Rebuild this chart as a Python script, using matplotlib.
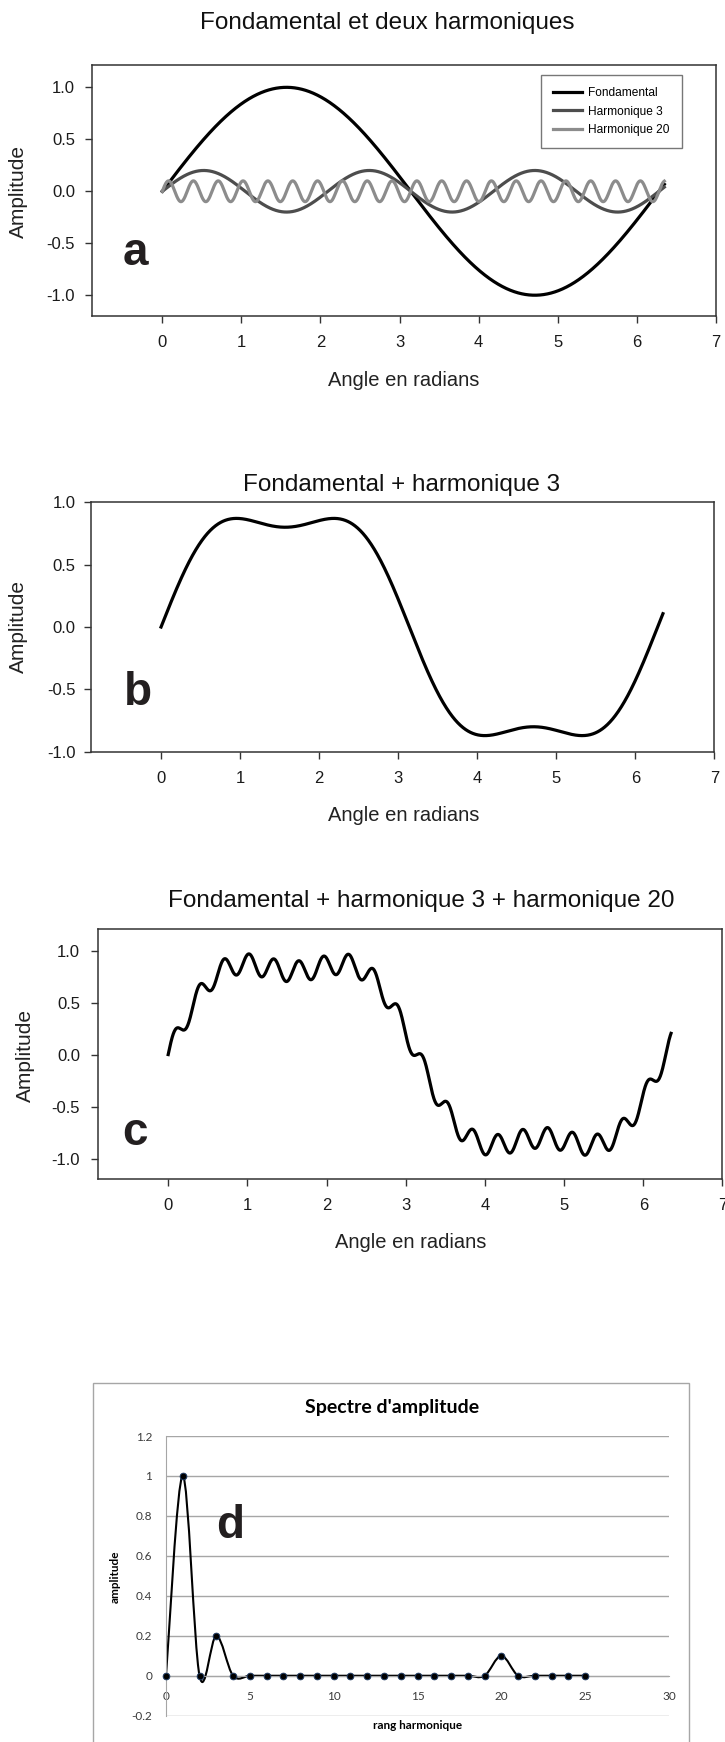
import numpy as np
import matplotlib
matplotlib.use("Agg")
import matplotlib.pyplot as plt
from matplotlib.path import Path
from matplotlib.patches import PathPatch, Rectangle
from matplotlib.ticker import FormatStrFormatter, FuncFormatter

plt.rcParams['font.family'] = ['Liberation Sans', 'DejaVu Sans']
plt.rcParams['axes.unicode_minus'] = False

# spectrum (rank -> amplitude)
rang = list(range(26))
amplitude = [0, 1.0, 0, 0.2, 0, 0, 0, 0, 0, 0, 0, 0, 0,
             0, 0, 0, 0, 0, 0, 0, 0.1, 0, 0, 0, 0, 0]

# harmonics shown in panels a-c (rank, amplitude) and angle range of the curves
fond = (1, 1.0)
harm3 = (3, 0.2)
harm20 = (20, 0.1)
angle_max = 6.35

legend_labels = ["Fondamental", "Harmonique 3", "Harmonique 20"]
wave_xticks = [0, 1, 2, 3, 4, 5, 6, 7]
wave_yticks = [-1.0, -0.5, 0.0, 0.5, 1.0]
spec_xticks = [0, 5, 10, 15, 20, 25, 30]
spec_yticks = [-0.2, 0, 0.2, 0.4, 0.6, 0.8, 1.0, 1.2]

angle = np.linspace(0, angle_max, 1500)
y_fond = fond[1] * np.sin(fond[0] * angle)
y_h3 = harm3[1] * np.sin(harm3[0] * angle)
y_h20 = harm20[1] * np.sin(harm20[0] * angle)

W, H = 725, 1742
fig = plt.figure(figsize=(W / 100, H / 100), dpi=100)


def box(x0, y0, x1, y1):
    return [x0 / W, 1 - y1 / H, (x1 - x0) / W, (y1 - y0) / H]


def txt(x, y, s, **kw):
    fig.text(x / W, 1 - y / H, s, **kw)


def wave_axes(rect, ylim, ypad):
    ax = fig.add_axes(rect)
    ax.set_xlim(-0.89, 7)
    ax.set_ylim(*ylim)
    ax.set_xticks(wave_xticks)
    ax.set_yticks(wave_yticks)
    ax.yaxis.set_major_formatter(FormatStrFormatter('%.1f'))
    ax.tick_params(axis='both', direction='out', length=4.7, width=1.0,
                   color='#333333', labelsize=12, labelcolor='#1a1a1a')
    ax.tick_params(axis='x', pad=9)
    ax.tick_params(axis='y', pad=ypad)
    for sp in ax.spines.values():
        sp.set_color('#333333')
        sp.set_linewidth(1.1)
    return ax


letter_kw = dict(fontsize=33, fontweight='bold', color='#231f20',
                 ha='center', va='baseline')
title_kw = dict(fontsize=17.5, ha='center', va='baseline', color='#111111')
lab_kw = dict(fontsize=14.5, ha='center', va='baseline', color='#222222')
ylab_kw = dict(fontsize=15, ha='center', va='center', rotation=90, color='#222222')

# ---- panel a
ax_a = wave_axes(box(92, 65.5, 715.7, 316), (-1.2, 1.21), 7.5)
ax_a.plot(angle, y_fond, color='black', lw=2.3, label=legend_labels[0])
ax_a.plot(angle, y_h3, color='#4d4d4d', lw=2.3, label=legend_labels[1])
ax_a.plot(angle, y_h20, color='#8c8c8c', lw=2.3, label=legend_labels[2])
leg = ax_a.legend(loc='upper right', bbox_to_anchor=(681.7 / W, 1 - 75 / H),
                  bbox_transform=fig.transFigure, fontsize=8.6, frameon=True,
                  fancybox=False, borderpad=1.0, labelspacing=0.55,
                  handlelength=2.5, handletextpad=0.5, borderaxespad=0)
leg.get_frame().set_edgecolor('#555555')
leg.get_frame().set_linewidth(1.0)
txt(387, 29.5, "Fondamental et deux harmoniques", **title_kw)
txt(404, 386, "Angle en radians", **lab_kw)
txt(18.5, 191.5, "Amplitude", **ylab_kw)
txt(135, 265, "a", **letter_kw)

# ---- panel b
ax_b = wave_axes(box(90.7, 502.3, 714.3, 751.7), (-1.0, 1.0), 6)
ax_b.plot(angle, y_fond + y_h3, color='black', lw=2.3)
txt(402, 491, "Fondamental + harmonique 3", **title_kw)
txt(404, 821, "Angle en radians", **lab_kw)
txt(18.5, 626.7, "Amplitude", **ylab_kw)
txt(137.5, 705, "b", **letter_kw)

# ---- panel c
ax_c = wave_axes(box(97.7, 929.3, 722.5, 1179.3), (-1.2, 1.205), 8)
ax_c.plot(angle, y_fond + y_h3 + y_h20, color='black', lw=2.3)
txt(421.7, 907.5, "Fondamental + harmonique 3 + harmonique 20", **title_kw)
txt(411, 1248.3, "Angle en radians", **lab_kw)
txt(25.7, 1055, "Amplitude", **ylab_kw)
txt(135.5, 1145, "c", **letter_kw)

# ---- panel d (spreadsheet style spectrum)
fig.patches.append(Rectangle((92.7 / W, 1 - 1760 / H), (689.3 - 92.7) / W,
                             (1760 - 1382.7) / H, transform=fig.transFigure,
                             fill=False, ec='#a6a6a6', lw=1.0))
ax_d = fig.add_axes(box(166, 1436, 669, 1715.7))
ax_d.set_xlim(0, 30)
ax_d.set_ylim(-0.2, 1.2)
ax_d.set_xticks(spec_xticks)
ax_d.set_yticks(spec_yticks)
ax_d.yaxis.set_major_formatter(FuncFormatter(lambda v, p: '{:g}'.format(round(v, 1))))
ax_d.grid(axis='y', color='#a6a6a6', lw=1.0)
ax_d.set_axisbelow(True)
for s in ['top', 'right']:
    ax_d.spines[s].set_visible(False)
ax_d.spines['left'].set_color('#a6a6a6')
ax_d.spines['bottom'].set_color('#a6a6a6')
ax_d.spines['bottom'].set_position(('data', 0))
ax_d.tick_params(axis='both', length=0, labelsize=8.5, labelcolor='#3a3a3a')
ax_d.tick_params(axis='x', pad=11)
ax_d.tick_params(axis='y', pad=10)
for lab in ax_d.get_xticklabels() + ax_d.get_yticklabels():
    lab.set_family(['Lato', 'DejaVu Sans'])


def smooth_path(xs, ys):
    pts = np.column_stack([xs, ys]).astype(float)
    n = len(pts)
    verts = [pts[0]]
    codes = [Path.MOVETO]
    for i in range(n - 1):
        p0 = pts[i - 1] if i > 0 else pts[i]
        p1, p2 = pts[i], pts[i + 1]
        p3 = pts[i + 2] if i + 2 < n else pts[i + 1]
        verts += [p1 + (p2 - p0) / 6, p2 - (p3 - p1) / 6, p2]
        codes += [Path.CURVE4] * 3
    return Path(verts, codes)


ax_d.add_patch(PathPatch(smooth_path(rang, amplitude), fill=False,
                         ec='black', lw=1.5, transform=ax_d.transData))
ax_d.plot(rang, amplitude, linestyle='none', marker='o', ms=4.8,
          mfc='black', mec='#1f3b63', mew=0.7, clip_on=False, zorder=3)

dfont = ['Lato', 'DejaVu Sans']
txt(392, 1413.5, "Spectre d'amplitude", fontsize=14, fontweight='bold',
    ha='center', va='baseline', family=dfont)
txt(418, 1729.3, "rang harmonique", fontsize=8.5, fontweight='bold',
    ha='center', va='baseline', family=dfont)
txt(115, 1576.7, "amplitude", fontsize=8.5, fontweight='bold',
    ha='center', va='center', rotation=90, family=dfont)
txt(230, 1538.3, "d", **letter_kw)

fig.savefig("out.png", dpi=100)
